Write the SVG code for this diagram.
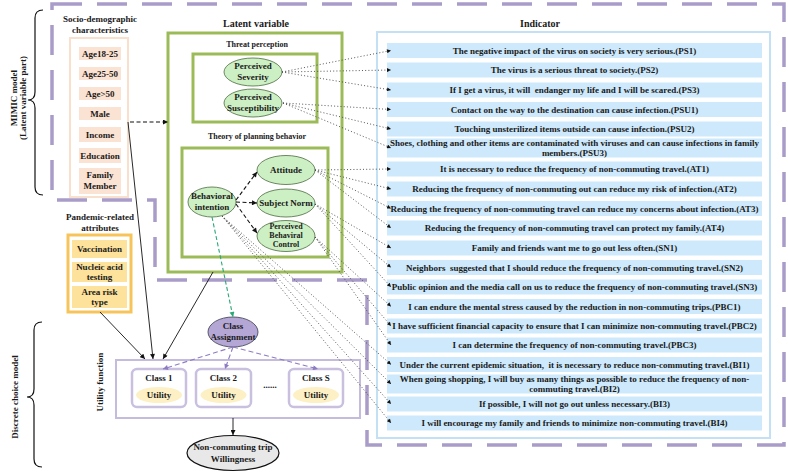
<svg xmlns="http://www.w3.org/2000/svg" width="788" height="475" viewBox="0 0 788 475">
<style>
text{font-family:"Liberation Serif","Times New Roman",serif;font-weight:bold;fill:#1a1a1a;text-anchor:middle}
.t9{font-size:9px}
.t10{font-size:10px}
.t8{font-size:8px}
.ind{font-size:9px}
.grn{fill:none;stroke:#9bbb59;stroke-width:3}
.ell{fill:#cdefc4;stroke:#4d6b40;stroke-width:0.8}
.soc{fill:#fbe3d3}
.pan{fill:#fde29b}
.row{fill:#cde9fb}
.dot{fill:none;stroke:#444;stroke-width:0.9;stroke-dasharray:1 2.2}
.cls{fill:#fff;stroke:#c9c0e0;stroke-width:2.5}
.util{fill:#fdf0c4}
</style>
<defs>
<marker id="ah" viewBox="0 0 10 10" refX="10" refY="5" markerWidth="6" markerHeight="5" markerUnits="userSpaceOnUse" orient="auto"><path d="M0,0L10,5L0,10Z" fill="#111"/></marker>
<marker id="ahs" viewBox="0 0 10 10" refX="10" refY="5" markerWidth="5" markerHeight="4" markerUnits="userSpaceOnUse" orient="auto"><path d="M0,0L10,5L0,10Z" fill="#111"/></marker>
<marker id="ahp" viewBox="0 0 10 10" refX="10" refY="5" markerWidth="6" markerHeight="5" markerUnits="userSpaceOnUse" orient="auto"><path d="M0,0L10,5L0,10Z" fill="#8e7cc3"/></marker>
<marker id="ahg" viewBox="0 0 10 10" refX="10" refY="5" markerWidth="6" markerHeight="5" markerUnits="userSpaceOnUse" orient="auto"><path d="M0,0L10,5L0,10Z" fill="#2aa876"/></marker>
</defs>
<rect width="788" height="475" fill="#fff"/>

<!-- outer dashed region -->
<path id="mimic-region" d="M52,4 H784 V445 H367 V280 H155 V200 H52 Z" fill="none" stroke="#a99cc9" stroke-width="3.5" stroke-dasharray="30 15"/>

<!-- side labels -->
<g id="mimic-label">
<path d="M43,10 Q35,10 35,18 V92 Q35,100 28,100 Q35,100 35,108 V187 Q35,195 43,195" fill="none" stroke="#111" stroke-width="1.2"/>
<text class="t9" transform="translate(17,98) rotate(-90)">MIMIC model</text>
<text class="t9" transform="translate(26,98) rotate(-90)">(Latent variable part)</text>
</g>
<g id="dcm-label">
<path d="M42,322 Q34,322 34,330 V389 Q34,397 27,397 Q34,397 34,405 V459 Q34,467 42,467" fill="none" stroke="#111" stroke-width="1.2"/>
<text class="t9" transform="translate(18,397) rotate(-90)">Discrete choice model</text>
</g>
<g id="utility-label">
<text class="t9" transform="translate(103,382) rotate(-90)">Utility function</text>
</g>

<!-- Socio-demographic -->
<g id="socio">
<text class="t9" x="100" y="22">Socio-demographic</text>
<text class="t9" x="100" y="33">characteristics</text>
<rect x="70" y="38" width="58" height="159" fill="#fff" stroke="#f8e0cc" stroke-width="2"/>
<rect class="soc" x="79" y="47" width="42" height="13"/><text class="t9" x="100" y="56.5">Age18-25</text>
<rect class="soc" x="79" y="67" width="42" height="13"/><text class="t9" x="100" y="76.5">Age25-50</text>
<rect class="soc" x="79" y="87" width="42" height="13"/><text class="t9" x="100" y="96.5">Age&gt;50</text>
<rect class="soc" x="79" y="107" width="42" height="13"/><text class="t9" x="100" y="116.5">Male</text>
<rect class="soc" x="79" y="127" width="42" height="15"/><text class="t9" x="100" y="137.5">Income</text>
<rect class="soc" x="79" y="148" width="42" height="15"/><text class="t9" x="100" y="158.5">Education</text>
<rect class="soc" x="79" y="168" width="42" height="26"/><text class="t9" x="100" y="178">Family</text><text class="t9" x="100" y="189">Member</text>
</g>

<!-- Pandemic -->
<g id="pandemic">
<text class="t9" x="100" y="220">Pandemic-related</text>
<text class="t9" x="100" y="231">attributes</text>
<rect x="68" y="235" width="63" height="77" fill="#fff" stroke="#f7c45a" stroke-width="3"/>
<rect class="pan" x="72" y="240" width="55" height="18"/><text class="t9" x="99.5" y="252">Vaccination</text>
<rect class="pan" x="72" y="262" width="55" height="20"/><text class="t9" x="99.5" y="270">Nucleic acid</text><text class="t9" x="99.5" y="280">testing</text>
<rect class="pan" x="72" y="286" width="55" height="22"/><text class="t9" x="99.5" y="294.5">Area risk</text><text class="t9" x="99.5" y="305">type</text>
</g>

<!-- Latent variable -->
<g id="latent">
<text class="t10" x="256" y="27">Latent variable</text>
<rect class="grn" x="168" y="33" width="174" height="239"/>
<text class="t8" x="257" y="47">Threat perception</text>
<rect class="grn" x="193" y="54" width="124" height="68"/>
<text class="t8" x="257" y="139">Theory of planning behavior</text>
<rect class="grn" x="182" y="148" width="146" height="109"/>
</g>
<g id="perceived-severity">
<ellipse class="ell" cx="253" cy="72" rx="29" ry="14"/>
<text class="t9" x="253" y="69">Perceived</text><text class="t9" x="253" y="79.5">Severity</text>
</g>
<g id="perceived-susceptibility">
<ellipse class="ell" cx="253" cy="103" rx="29" ry="14"/>
<text class="t9" x="253" y="100">Perceived</text><text class="t9" x="253" y="110.5">Susceptibility</text>
</g>
<g id="behavioral-intention">
<ellipse class="ell" cx="212" cy="202" rx="24" ry="15"/>
<text class="t9" x="212" y="199">Behavioral</text><text class="t9" x="212" y="210">intention</text>
</g>
<g id="attitude">
<ellipse class="ell" cx="286" cy="170" rx="29" ry="14.5"/>
<text class="t9" x="286" y="173">Attitude</text>
</g>
<g id="subject-norm">
<ellipse class="ell" cx="286" cy="203" rx="29" ry="14"/>
<text class="t9" x="286" y="206">Subject Norm</text>
</g>
<g id="pbc">
<ellipse class="ell" cx="286" cy="236" rx="29" ry="15.5"/>
<text class="t8" x="286" y="228.5">Perceived</text><text class="t8" x="286" y="237.5">Behaviral</text><text class="t8" x="286" y="246.5">Control</text>
</g>

<!-- Choice model -->
<g id="class-assignment">
<ellipse cx="233" cy="332" rx="25" ry="15" fill="#b4a7d6" stroke="#4a4a5a" stroke-width="0.9"/>
<text class="t9" x="233" y="329">Class</text><text class="t9" x="233" y="339.5">Assignment</text>
</g>
<g id="utility-function">
<rect x="116" y="360" width="244" height="58" fill="#fff" stroke="#c5bbdd" stroke-width="2"/>
</g>
<g id="class1">
<rect class="cls" x="132" y="369" width="54" height="38" rx="5"/>
<text class="t9" x="159" y="381">Class 1</text>
<ellipse class="util" cx="159" cy="395" rx="23" ry="8"/><text class="t9" x="159" y="398">Utility</text>
</g>
<g id="class2">
<rect class="cls" x="196" y="369" width="55" height="38" rx="5"/>
<text class="t9" x="223.5" y="381">Class 2</text>
<ellipse class="util" cx="223.5" cy="395" rx="23" ry="8"/><text class="t9" x="223.5" y="398">Utility</text>
</g>
<text class="t9" x="270" y="388">......</text>
<g id="classS">
<rect class="cls" x="289" y="369" width="54" height="38" rx="5"/>
<text class="t9" x="316" y="381">Class S</text>
<ellipse class="util" cx="316" cy="395" rx="23" ry="8"/><text class="t9" x="316" y="398">Utility</text>
</g>
<g id="willingness">
<ellipse cx="233" cy="453" rx="46" ry="17.5" fill="#e8e8e8" stroke="#111" stroke-width="1.2"/>
<text class="t9" x="233" y="450">Non-commuting trip</text><text class="t9" x="233" y="462">Willingness</text>
</g>

<!-- Indicator panel -->
<g id="indicator">
<text class="t10" x="540" y="27">Indicator</text>
<rect x="377" y="32" width="393" height="406" fill="#fff" stroke="#c4e0f4" stroke-width="2"/>
<rect class="row" x="387" y="43" width="375" height="15"/><text class="ind" x="574.5" y="53.5">The negative impact of the virus on society is very serious.(PS1)</text>
<rect class="row" x="387" y="62.5" width="375" height="15"/><text class="ind" x="574.5" y="73">The virus is a serious threat to society.(PS2)</text>
<rect class="row" x="387" y="82.5" width="375" height="15"/><text class="ind" x="574.5" y="93" xml:space="preserve">If I get a virus, it will  endanger my life and I will be scared.(PS3)</text>
<rect class="row" x="387" y="102" width="375" height="15"/><text class="ind" x="574.5" y="112.5">Contact on the way to the destination can cause infection.(PSU1)</text>
<rect class="row" x="387" y="121.5" width="375" height="15"/><text class="ind" x="574.5" y="132">Touching unsterilized items outside can cause infection.(PSU2)</text>
<rect class="row" x="387" y="138.5" width="375" height="19"/><text class="ind" x="574.5" y="146">Shoes, clothing and other items are contaminated with viruses and can cause infections in family</text><text class="ind" x="574.5" y="156">members.(PSU3)</text>
<rect class="row" x="387" y="161.5" width="375" height="15"/><text class="ind" x="574.5" y="172">It is necessary to reduce the frequency of non-commuting travel.(AT1)</text>
<rect class="row" x="387" y="181.5" width="375" height="15"/><text class="ind" x="574.5" y="192">Reducing the frequency of non-commuting out can reduce my risk of infection.(AT2)</text>
<rect class="row" x="387" y="201" width="375" height="15"/><text class="ind" x="574.5" y="211.5">Reducing the frequency of non-commuting travel can reduce my concerns about infection.(AT3)</text>
<rect class="row" x="387" y="220.5" width="375" height="15"/><text class="ind" x="574.5" y="231">Reducing the frequency of non-commuting travel can protect my family.(AT4)</text>
<rect class="row" x="387" y="240.5" width="375" height="15"/><text class="ind" x="574.5" y="251">Family and friends want me to go out less often.(SN1)</text>
<rect class="row" x="387" y="260" width="375" height="15"/><text class="ind" x="574.5" y="270.5" xml:space="preserve">Neighbors  suggested that I should reduce the frequency of non-commuting travel.(SN2)</text>
<rect class="row" x="387" y="279.5" width="375" height="15"/><text class="ind" x="574.5" y="290">Public opinion and the media call on us to reduce the frequency of non-commuting travel.(SN3)</text>
<rect class="row" x="387" y="299" width="375" height="15"/><text class="ind" x="574.5" y="309.5">I can endure the mental stress caused by the reduction in non-commuting trips.(PBC1)</text>
<rect class="row" x="387" y="318.5" width="375" height="15"/><text class="ind" x="574.5" y="329">I have sufficient financial capacity to ensure that I can minimize non-commuting travel.(PBC2)</text>
<rect class="row" x="387" y="337.5" width="375" height="15"/><text class="ind" x="574.5" y="348">I can determine the frequency of non-commuting travel.(PBC3)</text>
<rect class="row" x="387" y="357" width="375" height="15"/><text class="ind" x="574.5" y="367.5" xml:space="preserve">Under the current epidemic situation,  it is necessary to reduce non-commuting travel.(BI1)</text>
<rect class="row" x="387" y="374.5" width="375" height="19"/><text class="ind" x="574.5" y="382">When going shopping, I will buy as many things as possible to reduce the frequency of non-</text><text class="ind" x="574.5" y="392">commuting travel.(BI2)</text>
<rect class="row" x="387" y="396.5" width="375" height="15"/><text class="ind" x="574.5" y="407">If possible, I will not go out unless necessary.(BI3)</text>
<rect class="row" x="387" y="415.5" width="375" height="15"/><text class="ind" x="574.5" y="426">I will encourage my family and friends to minimize non-commuting travel.(BI4)</text>
</g>

<!-- connectors -->
<g id="connectors">
<g class="dot" marker-end="url(#ahs)">
<path d="M282,72 L391,50.5"/>
<path d="M282,72 L391,70"/>
<path d="M282,72 L391,90"/>
<path d="M283,103 L391,109.5"/>
<path d="M283,103 L391,129"/>
<path d="M283,103 L391,148"/>
<path d="M315,170 L391,169"/>
<path d="M315,170 L391,189"/>
<path d="M315,170 L391,208.5"/>
<path d="M315,170 L391,228"/>
<path d="M315,204 L391,248"/>
<path d="M315,204 L391,267.5"/>
<path d="M315,204 L391,287"/>
<path d="M315,237 L391,306.5"/>
<path d="M315,237 L391,326"/>
<path d="M315,237 L391,345"/>
<path d="M222,216 L391,364.5"/>
<path d="M222,216 L391,384"/>
<path d="M222,216 L391,404"/>
<path d="M222,216 L391,423"/>
</g>
<g fill="none" stroke="#111" stroke-width="1.1" stroke-dasharray="4 2.5" marker-end="url(#ah)">
<path d="M236,200 L257,172"/>
<path d="M236,202 L257,203"/>
<path d="M236,204 L257,233"/>
<path d="M130,122 L168,122"/>
</g>
<path d="M212,217 L233,317" fill="none" stroke="#2aa876" stroke-width="1.1" stroke-dasharray="4 2.5" marker-end="url(#ahg)"/>
<g fill="none" stroke="#8e7cc3" stroke-width="1.1" stroke-dasharray="5 3" marker-end="url(#ahp)">
<path d="M233,347 L163,369"/>
<path d="M233,347 L225,369"/>
<path d="M233,347 L318,369"/>
</g>
<g fill="none" stroke="#111" stroke-width="0.9" marker-end="url(#ah)">
<path d="M100,312 L145,359"/>
<path d="M128,122 L153,359"/>
<path d="M213,272 L163,359"/>
<path d="M233,418 L233,435"/>
</g>
</g>
</svg>
